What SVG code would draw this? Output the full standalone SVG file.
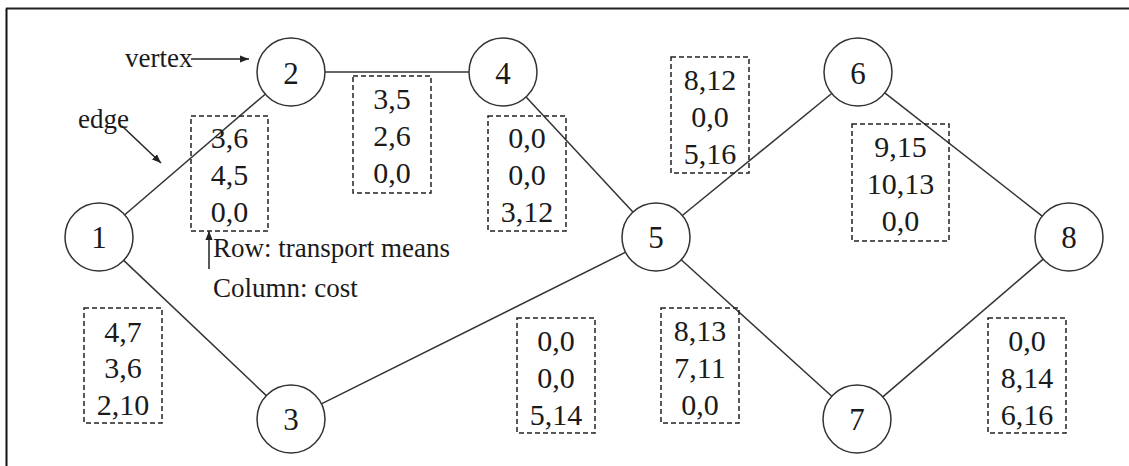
<svg xmlns="http://www.w3.org/2000/svg" width="1129" height="466" viewBox="0 0 1129 466">
<style>
  .t { font-family: "Liberation Serif", "Times New Roman", serif; font-size: 27px; fill: #1a1a1a; }
  .box text { font-family: "Liberation Serif", "Times New Roman", serif; font-size: 30px; fill: #1a1a1a; text-anchor: middle; }
  .node circle { fill: #fff; stroke: #333; stroke-width: 1.5; }
  .node text { font-family: "Liberation Serif", "Times New Roman", serif; font-size: 31px; fill: #1a1a1a; text-anchor: middle; }
  .edge { stroke: #333; stroke-width: 1.5; fill: none; }
  .box rect { fill: none; stroke: #222; stroke-width: 1.5; stroke-dasharray: 5 3; }
  .ann { stroke: #222; stroke-width: 1.5; fill: none; }
</style>
<defs>
  <marker id="ah" viewBox="0 0 10 10" refX="10" refY="5" markerWidth="9" markerHeight="9" markerUnits="userSpaceOnUse" orient="auto">
    <path d="M0,1 L10,5 L0,9 Z" fill="#222"/>
  </marker>
</defs>
<rect width="1129" height="466" fill="#fff"/>
<g id="frame">
  <line x1="6" y1="8.5" x2="1129" y2="8.5" stroke="#222" stroke-width="2"/>
  <line x1="6.5" y1="8.5" x2="6.5" y2="466" stroke="#111" stroke-width="2"/>
</g>
<g id="connectors">
  <line class="edge" x1="124.8" y1="214.8" x2="265.2" y2="94.2"/>
  <line class="edge" x1="123.7" y1="260.4" x2="266.3" y2="395.6"/>
  <line class="edge" x1="325" y1="72" x2="469" y2="72" stroke="#888" stroke-width="2"/>
  <line class="edge" x1="526.1" y1="96.9" x2="632.9" y2="212.1"/>
  <line class="edge" x1="321.4" y1="403.8" x2="625.6" y2="252.2"/>
  <line class="edge" x1="682.3" y1="215.5" x2="831.7" y2="93.5"/>
  <line class="edge" x1="681.2" y1="259.8" x2="831.8" y2="396.2"/>
  <line class="edge" x1="884.8" y1="92.9" x2="1042.2" y2="216.1"/>
  <line class="edge" x1="882.8" y1="396.9" x2="1043.2" y2="259.1"/>
</g>
<g id="node1" class="node"><circle cx="99" cy="237" r="34"/><text x="99" y="248">1</text></g>
<g id="node2" class="node"><circle cx="291" cy="72" r="34"/><text x="291" y="84">2</text></g>
<g id="node3" class="node"><circle cx="291" cy="419" r="34"/><text x="291" y="430">3</text></g>
<g id="node4" class="node"><circle cx="503" cy="72" r="34"/><text x="503" y="84">4</text></g>
<g id="node5" class="node"><circle cx="656" cy="237" r="34"/><text x="656" y="248">5</text></g>
<g id="node6" class="node"><circle cx="858" cy="72" r="34"/><text x="858" y="84">6</text></g>
<g id="node7" class="node"><circle cx="857" cy="419" r="34"/><text x="857" y="430">7</text></g>
<g id="node8" class="node"><circle cx="1069" cy="237" r="34"/><text x="1069" y="248">8</text></g>

<g id="box12" class="box"><rect x="191" y="116" width="77" height="115"/>
  <text x="229.5" y="148">3,6</text><text x="229.5" y="185">4,5</text><text x="229.5" y="222">0,0</text></g>
<g id="box24" class="box"><rect x="353" y="76" width="78" height="117"/>
  <text x="392" y="109">3,5</text><text x="392" y="146">2,6</text><text x="392" y="183">0,0</text></g>
<g id="box45" class="box"><rect x="488" y="116" width="78" height="115"/>
  <text x="527" y="148">0,0</text><text x="527" y="185">0,0</text><text x="527" y="222">3,12</text></g>
<g id="box56" class="box"><rect x="671" y="57" width="78" height="116"/>
  <text x="710" y="90">8,12</text><text x="710" y="127">0,0</text><text x="710" y="164">5,16</text></g>
<g id="box68" class="box"><rect x="852" y="124" width="97" height="117"/>
  <text x="900.5" y="157">9,15</text><text x="900.5" y="194">10,13</text><text x="900.5" y="231">0,0</text></g>
<g id="box13" class="box"><rect x="84" y="308" width="78" height="115"/>
  <text x="123" y="342">4,7</text><text x="123" y="378">3,6</text><text x="123" y="415">2,10</text></g>
<g id="box35" class="box"><rect x="517" y="318" width="78" height="115"/>
  <text x="556" y="351">0,0</text><text x="556" y="388">0,0</text><text x="556" y="425">5,14</text></g>
<g id="box57" class="box"><rect x="661" y="308" width="78" height="115"/>
  <text x="700" y="341">8,13</text><text x="700" y="378">7,11</text><text x="700" y="415">0,0</text></g>
<g id="box78" class="box"><rect x="988" y="318" width="78" height="115"/>
  <text x="1027" y="351">0,0</text><text x="1027" y="388">8,14</text><text x="1027" y="425">6,16</text></g>

<g id="labels">
  <text class="t" x="125" y="67">vertex</text>
  <line class="ann" x1="191" y1="59" x2="249" y2="59" marker-end="url(#ah)"/>
  <text class="t" x="78" y="128">edge</text>
  <line class="ann" x1="122" y1="126" x2="161" y2="163" marker-end="url(#ah)"/>
  <line class="ann" x1="209" y1="269" x2="209" y2="231" marker-end="url(#ah)"/>
  <text class="t" x="213" y="257">Row: transport means</text>
  <text class="t" x="213" y="297">Column: cost</text>
</g>
</svg>
